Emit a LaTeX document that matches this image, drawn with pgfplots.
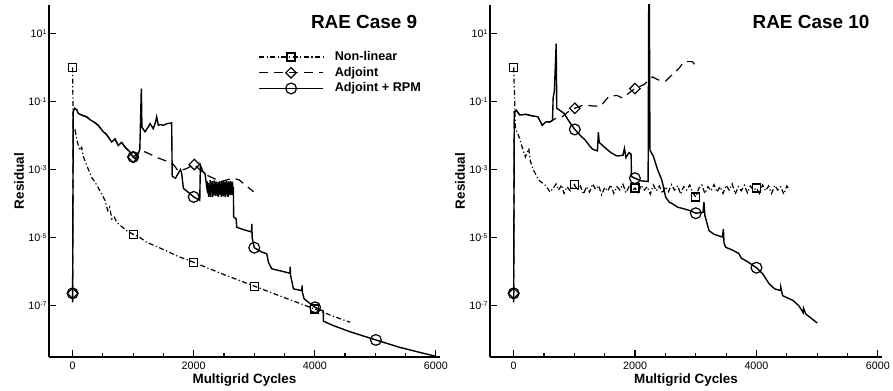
\documentclass[border=0pt]{standalone}
\usepackage{fontspec}
\setmainfont{Liberation Sans}
\usepackage{pgfplots}
\pgfplotsset{compat=1.18}
\newcommand{\ex}[1]{10\raisebox{3.3bp}{\fontsize{7}{7}\selectfont #1}}
\tikzset{
  nl/.style={black, line width=1.2bp, dash pattern=on 5bp off 2.5bp on 1.2bp off 2.5bp},
  adj/.style={black, line width=1.2bp, dash pattern=on 9bp off 6bp},
  rpm/.style={black, line width=1.4bp, solid},
}
\pgfplotsset{
  sqm/.style={only marks, mark=square, mark size=4bp, mark options={solid, line width=1.2bp}},
  dmm/.style={only marks, mark=square, mark size=3.7bp, mark options={solid, rotate=45, line width=1.2bp}},
  cim/.style={only marks, mark=o, mark size=5.4bp, mark options={solid, line width=1.2bp}},
}
\begin{document}
\begin{tikzpicture}
\useasboundingbox (0,0) rectangle (893bp,391bp);
% ---------------- Case 9 ----------------
\begin{axis}[at={(49bp,34bp)}, anchor=south west,
    scale only axis, width=391bp, height=352bp,
    ymode=log, xmin=-390, xmax=6068, ymin=3.16e-9, ymax=67.9,
    axis x line*=bottom, axis y line*=left,
    axis line style={line width=1.6bp, black},
    xtick={0,2000,4000,6000}, xticklabels={0,2000,4000,6000},
    minor xtick={500,1000,1500,2500,3000,3500,4500,5000,5500},
    ytick={1e1,1e-1,1e-3,1e-5,1e-7},
    yticklabels={\ex{1},\ex{-1},\ex{-3},\ex{-5},\ex{-7}},
    yminorticks=false,
    tick align=inside,
    major tick length=7bp, minor tick length=4.5bp,
    every tick/.style={black, line width=1.2bp},
    tick label style={font=\fontsize{10.8}{10.8}\selectfont},
    xticklabel style={yshift=-1.5bp},
    yticklabel style={xshift=1bp},
    xlabel={Multigrid Cycles}, ylabel={Residual},
    x label style={at={(axis description cs:0.5,0)}, anchor=base, yshift=-26.3bp, font=\bfseries\fontsize{13.5}{13.5}\selectfont},
    y label style={at={(axis description cs:-0.064,0.5)}, anchor=base, font=\bfseries\fontsize{13.5}{13.5}\selectfont},
  legend style={at={(0.535,0.869)}, anchor=north west, draw=none, fill=none,
    font=\bfseries\fontsize{12.7}{12.7}\selectfont, row sep=4.2bp, column sep=11bp, inner sep=0bp,
    nodes={inner sep=0bp, text height=9bp, text depth=2.5bp}},
  legend cell align=left,
  legend image code/.code={\draw[mark repeat=2,mark phase=2,#1] plot coordinates {(0bp,0bp) (32bp,0bp) (64bp,0bp)};}]
\addlegendimage{black, line width=1.2bp, dash pattern=on 5bp off 2.5bp on 1.2bp off 2.5bp, mark=square, mark size=4bp, mark options={solid, line width=1.2bp}}
\addlegendentry{Non-linear}
\addlegendimage{black, line width=1.2bp, dash pattern=on 9bp off 6bp, mark=square, mark size=3.7bp, mark options={solid, rotate=45, line width=1.2bp}}
\addlegendentry{Adjoint}
\addlegendimage{black, line width=1.4bp, solid, mark=o, mark size=5.4bp, mark options={solid, line width=1.2bp}}
\addlegendentry{Adjoint + RPM}
% Non-linear
\addplot[nl, forget plot] coordinates {
(0,1.0) (10,0.0126) (40,0.0145) (80,6.3e-3) (120,3.7e-3) (150,4.5e-3) (175,2.5e-3)
(250,1.12e-3) (314,6.0e-4) (380,4.0e-4) (451,2.4e-4) (534,1.26e-4) (580,6.3e-5)
(610,7.9e-5) (650,3.5e-5) (690,4.0e-5) (730,2.8e-5) (800,2.2e-5) (900,1.58e-5)
(1000,1.26e-5) (1100,1.05e-5) (1223,7.4e-6) (1500,4.5e-6) (1750,2.8e-6) (2000,1.9e-6)
(2500,8.3e-7) (3000,3.8e-7) (3500,1.74e-7) (4000,8.1e-8) (4300,5.0e-8) (4584,3.3e-8)};
% Adjoint
\addplot[adj, forget plot] coordinates {
(0,2.34e-7) (10,0.0501) (30,0.063) (66,0.0575) (93,0.0447) (150,0.0398) (231,0.0355)
(300,0.0282) (350,0.0251) (423,0.020) (506,0.0129) (550,0.0112) (589,0.0091) (645,0.00646)
(700,0.00794) (754,0.00513) (810,0.00631) (865,0.00457) (947,0.00331) (1000,0.00234)
(1085,3.16e-3) (1150,3.55e-3) (1223,3.16e-3) (1400,2.24e-3) (1550,1.78e-3) (1664,1.41e-3)
(1750,8.9e-4) (1880,1.07e-3) (2010,1.41e-3) (2100,1.0e-3) (2200,7.1e-4) (2324,5.6e-4)
(2450,4.47e-4) (2550,5.0e-4) (2655,5.6e-4) (2750,5.0e-4) (2850,3.55e-4) (2990,2.24e-4)};
% Adjoint + RPM
\addplot[rpm, forget plot] coordinates {
(0,1.26e-7) (10,0.0501) (30,0.063) (66,0.0575) (93,0.0447) (150,0.0398) (231,0.0355)
(300,0.0282) (350,0.0251) (423,0.020) (506,0.0129) (550,0.0112) (589,0.0091) (645,0.00646)
(700,0.00794) (754,0.00513) (810,0.00631) (865,0.00457) (947,0.00331) (1000,0.00234)
(1030,0.00209) (1085,0.00295) (1110,0.00398) (1135,0.240) (1145,0.0178) (1195,0.0129)
(1250,0.0178) (1278,0.0224) (1333,0.0158) (1370,0.0251) (1388,0.0355) (1416,0.020)
(1450,0.0209) (1498,0.020) (1560,0.0224) (1636,0.0234) (1645,6.31e-4) (1700,5.62e-4)
(1780,1.0e-3) (1800,7.94e-4) (1830,2.82e-4) (1900,2.24e-4) (2000,1.58e-4) (2050,1.41e-4)
(2100,1.26e-4) (2110,1.35e-3) (2150,8.91e-4) (2187,7.59e-4) (2215,3.16e-4)
(2225,4.47e-4) (2232,2.0e-4) (2240,4.0e-4) (2248,1.58e-4) (2256,3.5e-4) (2264,1.82e-4)
(2272,4.9e-4) (2280,1.6e-4) (2288,4.2e-4) (2296,2.2e-4) (2304,4.6e-4) (2312,1.55e-4)
(2320,3.6e-4) (2328,1.75e-4) (2336,4.8e-4) (2344,1.9e-4) (2352,4.2e-4) (2360,1.7e-4)
(2368,4.5e-4) (2376,2.1e-4) (2384,4.4e-4) (2392,1.7e-4) (2400,3.8e-4) (2408,1.6e-4)
(2416,4.3e-4) (2424,1.95e-4) (2432,4.6e-4) (2440,1.8e-4) (2448,3.9e-4) (2456,1.6e-4)
(2464,4.5e-4) (2472,2.0e-4) (2480,4.2e-4) (2488,1.65e-4) (2496,4.7e-4) (2504,1.85e-4)
(2512,3.7e-4) (2520,1.55e-4) (2528,4.4e-4) (2536,2.1e-4) (2544,4.6e-4) (2552,1.7e-4)
(2560,4.1e-4) (2568,1.6e-4) (2576,4.5e-4) (2584,1.9e-4) (2592,4.3e-4) (2600,1.75e-4)
(2608,4.6e-4) (2616,2.0e-4) (2624,4.0e-4) (2632,1.8e-4) (2640,4.4e-4) (2648,2.5e-4) (2655,3.1e-4)
(2660,4.07e-5) (2700,3.63e-5) (2710,2.04e-5) (2800,1.78e-5) (2955,1.48e-5) (2960,2.57e-5)
(2966,1.0e-5) (3000,5.1e-6) (3124,3.8e-6) (3207,3.39e-6) (3234,1.91e-6) (3289,1.23e-6)
(3400,1.1e-6) (3590,9.1e-7) (3594,1.41e-6) (3600,7.9e-7) (3647,3.16e-7) (3785,2.82e-7)
(3790,3.98e-7) (3795,2.51e-7) (3823,1.62e-7) (3900,1.26e-7) (4005,9.1e-8) (4088,7.6e-8)
(4140,7.1e-8) (4143,3.55e-8) (4308,2.63e-8) (4600,1.7e-8) (5009,1.0e-8) (5410,6.0e-9)
(5700,4.47e-9) (6000,3.31e-9)};
\addplot[sqm, forget plot] coordinates {(0,1.0) (1000,1.26e-5) (2000,1.9e-6) (3000,3.8e-7) (4000,8.1e-8)};
\addplot[dmm, forget plot] coordinates {(0,2.34e-7) (1000,2.34e-3) (2010,1.41e-3)};
\addplot[cim, forget plot] coordinates {(0,2.34e-7) (1000,2.34e-3) (2000,1.58e-4) (3000,5.1e-6) (4005,9.1e-8) (5009,1.0e-8)};
\node[anchor=base, font=\bfseries\fontsize{19}{19}\selectfont] at (rel axis cs:0.806,0.934) {RAE Case 9};
\end{axis}
% ---------------- Case 10 ----------------
\begin{axis}[at={(490bp,34bp)}, anchor=south west,
    scale only axis, width=392bp, height=352bp,
    ymode=log, xmin=-390, xmax=6068, ymin=3.16e-9, ymax=67.9,
    axis x line*=bottom, axis y line*=left,
    axis line style={line width=1.6bp, black},
    xtick={0,2000,4000,6000}, xticklabels={0,2000,4000,6000},
    minor xtick={500,1000,1500,2500,3000,3500,4500,5000,5500},
    ytick={1e1,1e-1,1e-3,1e-5,1e-7},
    yticklabels={\ex{1},\ex{-1},\ex{-3},\ex{-5},\ex{-7}},
    yminorticks=false,
    tick align=inside,
    major tick length=7bp, minor tick length=4.5bp,
    every tick/.style={black, line width=1.2bp},
    tick label style={font=\fontsize{10.8}{10.8}\selectfont},
    xticklabel style={yshift=-1.5bp},
    yticklabel style={xshift=1bp},
    xlabel={Multigrid Cycles}, ylabel={Residual},
    x label style={at={(axis description cs:0.5,0)}, anchor=base, yshift=-26.3bp, font=\bfseries\fontsize{13.5}{13.5}\selectfont},
    y label style={at={(axis description cs:-0.064,0.5)}, anchor=base, font=\bfseries\fontsize{13.5}{13.5}\selectfont}]
% Non-linear
\addplot[nl] coordinates {
(0,1.0) (30,0.0145) (56,0.0129) (100,8.0e-3) (138,4.68e-3) (193,2.34e-3) (248,4.17e-3)
(275,1.78e-3) (330,9.5e-4) (413,4.9e-4) (523,3.47e-4) (600,2.19e-4)
(650,2.82e-4) (700,3.8e-4) (740,2.51e-4) (790,3.55e-4) (830,2.0e-4) (880,3.16e-4)
(930,2.4e-4) (1000,3.63e-4) (1050,2.51e-4) (1100,3.31e-4) (1150,1.91e-4) (1200,3.16e-4)
(1250,2.19e-4) (1300,3.8e-4) (1350,2.63e-4) (1400,3.39e-4) (1450,1.82e-4) (1500,3.02e-4)
(1550,2.34e-4) (1600,3.55e-4) (1650,2.0e-4) (1700,3.16e-4) (1750,2.51e-4) (1800,3.72e-4)
(1850,2.09e-4) (1900,3.16e-4) (1950,2.4e-4) (2000,2.88e-4) (2050,2.0e-4) (2100,3.47e-4)
(2150,2.51e-4) (2200,3.16e-4) (2250,1.91e-4) (2300,3.55e-4) (2350,2.4e-4) (2400,3.31e-4)
(2450,2.0e-4) (2500,3.16e-4) (2550,2.24e-4) (2600,3.63e-4) (2650,2.51e-4) (2700,3.39e-4)
(2750,1.91e-4) (2800,3.16e-4) (2850,2.51e-4) (2900,3.55e-4) (2950,2.09e-4) (3000,1.58e-4)
(3050,2.82e-4) (3100,3.55e-4) (3150,2.0e-4) (3200,3.16e-4) (3250,2.4e-4) (3300,3.63e-4)
(3350,2.19e-4) (3400,3.16e-4) (3450,2.0e-4) (3500,3.47e-4) (3550,2.51e-4) (3600,3.8e-4)
(3650,1.91e-4) (3700,3.16e-4) (3750,2.4e-4) (3800,3.47e-4) (3850,2.09e-4) (3900,3.31e-4)
(3950,2.51e-4) (4000,2.88e-4) (4050,2.0e-4) (4100,3.55e-4) (4150,2.4e-4) (4200,3.31e-4)
(4250,2.0e-4) (4300,3.47e-4) (4350,2.51e-4) (4400,3.16e-4) (4450,1.91e-4) (4500,3.31e-4)
(4550,2.51e-4)};
% Adjoint
\addplot[adj] coordinates {
(0,2.34e-7) (10,0.0501) (45,0.055) (100,0.04) (200,0.042) (300,0.038) (400,0.0355)
(470,0.02) (530,0.0251) (600,0.0251) (688,0.0316) (800,0.0355) (900,0.0501) (1007,0.063)
(1150,0.079) (1300,0.074) (1430,0.072) (1568,0.141) (1700,0.151) (1790,0.126) (1997,0.240)
(2150,0.316) (2284,0.525) (2400,0.417) (2504,0.398) (2620,0.631) (2723,0.933) (2805,1.48)
(2944,1.48) (3000,1.1)};
% Adjoint + RPM
\addplot[rpm] coordinates {
(0,1.26e-7) (10,0.0501) (45,0.055) (100,0.04) (200,0.042) (300,0.038) (400,0.0355)
(470,0.02) (530,0.0251) (600,0.0251) (640,0.0282) (650,0.126) (670,0.2) (690,1.58)
(700,5.0) (710,0.063) (760,0.055) (830,0.0447) (900,0.0282) (1007,0.0151) (1100,0.01)
(1183,7.2e-3) (1250,5.0e-3) (1300,3.98e-3) (1380,3.55e-3) (1395,0.0126) (1410,6.3e-3)
(1500,4.47e-3) (1600,3.16e-3) (1700,2.51e-3) (1800,2.63e-3) (1825,4.2e-3) (1850,2.24e-3)
(1900,3.16e-3) (1935,2.82e-3) (1940,6.3e-4) (1997,5.6e-4) (2100,4.68e-4) (2215,4.47e-4)
(2225,100) (2235,100) (2245,3.7e-3) (2300,2.51e-3) (2370,1.0e-3) (2440,5.0e-4)
(2503,1.58e-4) (2560,1.12e-4) (2614,1.0e-4) (2700,7.9e-5) (2800,7.1e-5) (2900,6.3e-5)
(3000,5.25e-5) (3120,5.6e-5) (3135,1.12e-4) (3150,4.47e-5) (3218,1.62e-5) (3300,1.26e-5)
(3440,1.05e-5) (3455,1.82e-5) (3465,7.0e-6) (3493,5.25e-6) (3600,4.37e-6) (3708,3.47e-6)
(3750,2.51e-6) (3850,2.0e-6) (4000,1.32e-6) (4100,8.9e-7) (4208,4.47e-7) (4300,3.16e-7)
(4395,2.82e-7) (4400,3.6e-7) (4430,2.0e-7) (4600,1.45e-7) (4700,1.0e-7) (4770,6.3e-8)
(4775,8.5e-8) (4813,5.75e-8) (5000,3.16e-8)};
\addplot[sqm] coordinates {(0,1.0) (1000,3.63e-4) (2000,2.88e-4) (3000,1.58e-4) (4000,2.88e-4)};
\addplot[dmm] coordinates {(0,2.34e-7) (1007,0.063) (1997,0.240)};
\addplot[cim] coordinates {(0,2.34e-7) (1007,0.0151) (1997,5.6e-4) (3000,5.25e-5) (4000,1.32e-6)};
\node[anchor=base, font=\bfseries\fontsize{19}{19}\selectfont] at (rel axis cs:0.819,0.934) {RAE Case 10};
\end{axis}
\end{tikzpicture}
\end{document}
